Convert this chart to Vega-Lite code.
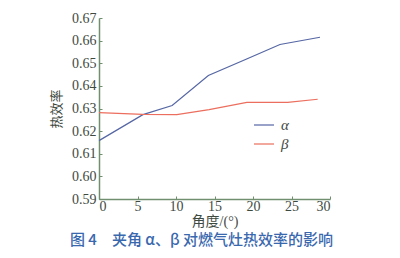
{
  "$schema": "https://vega.github.io/schema/vega-lite/v6.json",
  "width": 231,
  "height": 181,
  "autosize": {"type": "none"},
  "padding": {"left": 99, "top": 18, "right": 70, "bottom": 59},
  "background": "#ffffff",
  "config": {
    "view": {"stroke": null},
    "font": "Liberation Serif, Noto Sans CJK SC"
  },
  "title": {
    "text": "图 4　夹角 α、β 对燃气灶热效率的影响",
    "orient": "bottom",
    "anchor": "middle",
    "frame": "group",
    "dx": -13,
    "offset": 5,
    "font": "Noto Sans CJK SC",
    "fontSize": 15,
    "fontWeight": 500,
    "color": "#3a68ae"
  },
  "data": {
    "values": [
      {"angle": 0, "eff": 0.6158, "series": "α"},
      {"angle": 5.7, "eff": 0.6273, "series": "α"},
      {"angle": 9.5, "eff": 0.6313, "series": "α"},
      {"angle": 14.2, "eff": 0.6446, "series": "α"},
      {"angle": 19.1, "eff": 0.6518, "series": "α"},
      {"angle": 23.5, "eff": 0.6583, "series": "α"},
      {"angle": 28.7, "eff": 0.6615, "series": "α"},
      {"angle": 0, "eff": 0.6282, "series": "β"},
      {"angle": 5.7, "eff": 0.6274, "series": "β"},
      {"angle": 10.1, "eff": 0.6273, "series": "β"},
      {"angle": 14.3, "eff": 0.6295, "series": "β"},
      {"angle": 19.2, "eff": 0.6327, "series": "β"},
      {"angle": 24.5, "eff": 0.6327, "series": "β"},
      {"angle": 28.4, "eff": 0.6341, "series": "β"}
    ]
  },
  "mark": {"type": "line", "strokeWidth": 1.2},
  "encoding": {
    "x": {
      "field": "angle",
      "type": "quantitative",
      "scale": {"domain": [0, 30], "nice": false},
      "axis": {
        "values": [0, 5, 10, 15, 20, 25, 30],
        "grid": false,
        "domainColor": "#6f8f6f",
        "domainWidth": 1.5,
        "tickColor": "#6f8f6f",
        "tickSize": -3,
        "labelPadding": 3,
        "labelFont": "Liberation Serif",
        "labelFontSize": 14,
        "labelColor": "#3f4a3f",
        "title": "角度/(°)",
        "titleFont": "Liberation Serif, Noto Sans CJK SC",
        "titleFontSize": 14,
        "titleFontWeight": "normal",
        "titleColor": "#3f4a3f",
        "titlePadding": 1
      }
    },
    "y": {
      "field": "eff",
      "type": "quantitative",
      "scale": {"domain": [0.59, 0.67], "nice": false, "zero": false},
      "axis": {
        "values": [0.59, 0.6, 0.61, 0.62, 0.63, 0.64, 0.65, 0.66, 0.67],
        "format": ".2f",
        "grid": false,
        "domainColor": "#6f8f6f",
        "domainWidth": 1.5,
        "tickColor": "#6f8f6f",
        "tickSize": -3,
        "labelPadding": 6,
        "labelFont": "Liberation Serif",
        "labelFontSize": 14,
        "labelColor": "#3f4a3f",
        "title": "热效率",
        "titleFont": "Noto Sans CJK SC",
        "titleFontSize": 13,
        "titleFontWeight": "normal",
        "titleColor": "#3f4a3f",
        "titlePadding": 8
      }
    },
    "color": {
      "field": "series",
      "type": "nominal",
      "scale": {"domain": ["α", "β"], "range": ["#5566a4", "#ec6e5e"]},
      "legend": {
        "title": null,
        "orient": "none",
        "legendX": 154,
        "legendY": 96,
        "symbolType": "stroke",
        "symbolSize": 400,
        "symbolStrokeWidth": 1.2,
        "labelFont": "Liberation Serif",
        "labelFontStyle": "italic",
        "labelFontSize": 15,
        "labelColor": "#3f4a3f",
        "labelOffset": 6,
        "rowPadding": -5
      }
    }
  }
}
